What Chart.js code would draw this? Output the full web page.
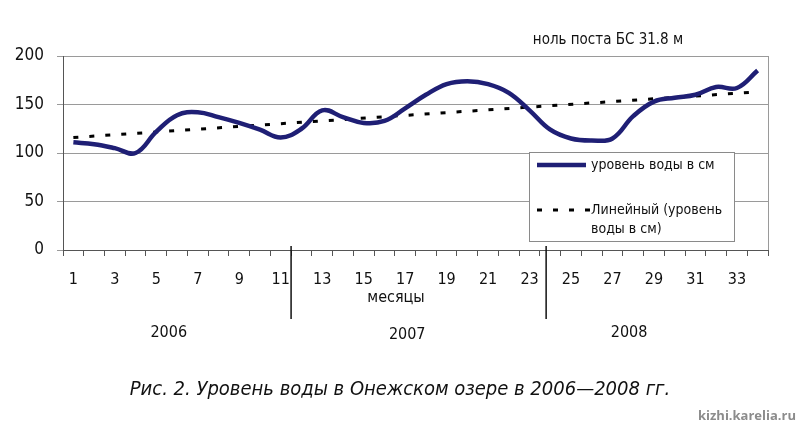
<!DOCTYPE html>
<html>
<head>
<meta charset="utf-8">
<script src="https://cdn.jsdelivr.net/npm/chart.js@4"></script>
<style>
  body { margin: 0; background: #fff; }
  #wrap { position: relative; width: 800px; height: 426px; }
  #caption {
    position: absolute; left: 0; width: 800px; top: 376px; text-align: center;
    font: italic 20px "Liberation Sans Narrow", "DejaVu Sans Condensed", "Open Sans", sans-serif;
    color: #111;
  }
  #mark {
    position: absolute; right: 4px; top: 406px;
    font: bold 13px "Liberation Sans Narrow", "Open Sans", sans-serif; color: #8c8c8c;
  }
</style>
</head>
<body>
<div id="wrap">
  <canvas id="grafico" width="800" height="426"></canvas>
  <div id="caption">Рис. 2. Уровень воды в Онежском озере в 2006—2008 гг.</div>
  <div id="mark">kizhi.karelia.ru</div>
</div>
<script>
const meses = ['1','2','3','4','5','6','7','8','9','10','11','12','13','14','15','16','17',
  '18','19','20','21','22','23','24','25','26','27','28','29','30','31','32','33','34'];
const nivel = [111, 109, 105, 100, 122, 139, 142, 137, 131, 124, 116, 125, 144, 137, 131, 133, 146,
  160, 171, 174, 171, 162, 144, 124, 115, 113, 115, 138, 153, 157, 160, 168, 167, 185];
const tendencia = [{ x: '1', y: 116 }, { x: '34', y: 163 }];
const anos = ['2006', '2007', '2008'];
const yTicks = [0, 50, 100, 150, 200];

const fonte = '"Liberation Sans Narrow", "DejaVu Sans Condensed", "Open Sans", sans-serif';

const extras = {
  id: 'extras',
  afterDraw(chart) {
    const ctx = chart.ctx;
    const a = chart.chartArea;
    const x = chart.scales.x;
    ctx.save();
    // right border
    ctx.strokeStyle = '#9a9a9a';
    ctx.lineWidth = 1;
    ctx.beginPath();
    ctx.moveTo(a.right + 0.5, a.top);
    ctx.lineTo(a.right + 0.5, a.bottom);
    ctx.stroke();

    // year separators
    ctx.strokeStyle = '#111';
    ctx.lineWidth = 1.5;
    [11.5, 23.8].forEach(m => {
      const px = x.getPixelForValue(m - 1);
      ctx.beginPath();
      ctx.moveTo(px, a.bottom - 4);
      ctx.lineTo(px, 319);
      ctx.stroke();
    });

    ctx.fillStyle = '#111';
    ctx.textAlign = 'center';
    ctx.textBaseline = 'middle';
    ctx.font = '16px ' + fonte;
    ctx.fillText('месяцы', 396, 298);
    const cx = [5.6, 17.1, 27.8];
    const cy = [333, 335, 333];
    anos.forEach((t, i) => ctx.fillText(t, x.getPixelForValue(cx[i] - 1), cy[i]));

    ctx.font = '15px ' + fonte;
    ctx.fillText('ноль поста БС 31.8 м', 608, 40);

    // legend box
    const lx = 529, ly = 152, lw = 205, lh = 89;
    ctx.fillStyle = '#fff';
    ctx.fillRect(lx, ly, lw, lh);
    ctx.strokeStyle = '#8a8a8a';
    ctx.lineWidth = 1;
    ctx.strokeRect(lx + 0.5, ly + 0.5, lw, lh);

    ctx.strokeStyle = '#1f1f75';
    ctx.lineWidth = 4.5;
    ctx.beginPath();
    ctx.moveTo(537, 165);
    ctx.lineTo(586, 165);
    ctx.stroke();

    ctx.strokeStyle = '#000';
    ctx.lineWidth = 3;
    ctx.setLineDash([5, 11]);
    ctx.beginPath();
    ctx.moveTo(537, 210);
    ctx.lineTo(590, 210);
    ctx.stroke();
    ctx.setLineDash([]);

    ctx.fillStyle = '#111';
    ctx.textAlign = 'left';
    ctx.font = '14px ' + fonte;
    ctx.fillText('уровень воды в см', 591, 165);
    ctx.fillText('Линейный (уровень', 591, 210);
    ctx.fillText('воды в см)', 591, 229);
    ctx.restore();
  }
};

const ctx = document.getElementById('grafico').getContext('2d');
new Chart(ctx, {
  type: 'line',
  data: {
    labels: meses,
    datasets: [{
      label: 'уровень воды в см',
      data: nivel,
      borderColor: '#1f1f75',
      borderWidth: 4.5,
      pointRadius: 0,
      tension: 0.4,
      fill: false
    }, {
      label: 'Линейный (уровень воды в см)',
      data: tendencia,
      borderColor: '#000',
      borderWidth: 3,
      borderDash: [5, 11],
      pointRadius: 0,
      fill: false
    }]
  },
  options: {
    responsive: false,
    animation: false,
    layout: { padding: { left: 0, top: 56, right: 32, bottom: 0 } },
    plugins: { legend: { display: false }, tooltip: { enabled: false } },
    scales: {
      x: {
        type: 'category',
        offset: true,
        afterFit: s => { s.height = 176; },
        grid: { offset: true, drawOnChartArea: false, drawTicks: true, tickLength: 6, color: '#555' },
        border: { color: '#555', width: 1 },
        ticks: {
          autoSkip: false,
          maxRotation: 0,
          padding: 14,
          color: '#111',
          font: { family: fonte, size: 16 },
          callback: (v, i) => (i % 2 === 0 ? meses[i] : '')
        }
      },
      y: {
        min: 0,
        max: 200,
        afterFit: s => { s.width = 63; },
        afterBuildTicks: s => { s.ticks = yTicks.map(v => ({ value: v })); },
        grid: { color: '#9a9a9a', tickLength: 6 },
        border: { color: '#555', width: 1 },
        ticks: {
          padding: 13,
          color: '#111',
          font: { family: fonte, size: 17 }
        }
      }
    }
  },
  plugins: [extras]
});
</script>
</body>
</html>
